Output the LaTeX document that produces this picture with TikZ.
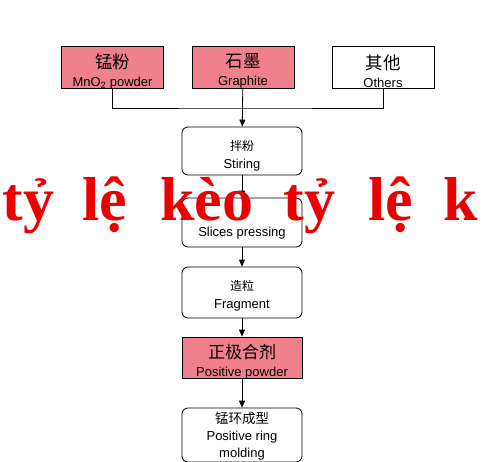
\documentclass[tikz,border=0pt]{standalone}
\usepackage{fontspec}
\setmainfont{Liberation Sans}
\newfontfamily\cjk{Noto Sans CJK SC}
\newfontfamily\markfont{Liberation Serif}
\usepackage{tikz}
\usetikzlibrary{arrows.meta, positioning}
\tikzset{
    rawnode/.style = {draw, rectangle, minimum width=102pt, minimum height=42pt, inner sep=0em},
    stepnode/.style = {draw, rectangle, rounded corners=0.6em, minimum width=120pt, minimum height=49pt, 
      inner sep=0em},
    pinknode/.style = {fill=pinkfill},
    boxtext/.style = {align=center, inner sep=0em, yshift=#1, font=\fontsize{13}{18}\selectfont},
    boxtext/.default = -4pt,
    marknode/.style = {anchor=base west, text=markred, inner sep=0em, 
      font=\markfont\bfseries\fontsize{62}{62}\selectfont},
    connect/.style = {black, -{Triangle[length=7pt,width=6pt]}}
}
\definecolor{pinkfill}{RGB}{240,128,140}
\definecolor{markred}{RGB}{235,0,0}
\newcommand{\bigcjk}[1]{{\cjk\fontsize{17.5}{18}\selectfont #1}}

\begin{document}
\begin{tikzpicture}[x=1pt, y=-1pt, line width=0.8pt]
    \useasboundingbox (0,0) rectangle (482,461);
    \clip (0,0) rectangle (482,461);

    % raw materials
    \node [rawnode, pinknode, name=mno2, label={[boxtext=-4pt]center:\bigcjk{锰粉} \\ MnO\textsubscript{2} powder}] 
      at (112.5,67) {};
    \node [rawnode, pinknode, name=graphite, label={[boxtext=-4pt]center:\bigcjk{石墨} \\ Graphite}] 
      at (243,67) {};
    \node [rawnode, name=others, label={[boxtext=-4pt]center:\bigcjk{其他} \\ Others}] 
      at (383,67) {};
    \coordinate (merge) at (243,108);

    % process steps
    \node [stepnode, name=stiring, minimum height=48pt, label={[boxtext=-5pt]center:{\cjk\fontsize{12}{18}\selectfont 拌粉} \\ Stiring}] 
      at (242,151) {};
    \node [stepnode, name=pressing, label={[boxtext=-10.5pt]center:Slices pressing}] 
      at (242,222.5) {};
    \node [stepnode, name=fragment, minimum height=51pt, label={[boxtext=-3pt]center:{\cjk\fontsize{12}{18}\selectfont 造粒} \\ Fragment}] 
      at (242,292.5) {};
    \node [stepnode, pinknode, name=powder, rounded corners=0pt, minimum height=41pt, 
      label={[boxtext=-4pt]center:{\cjk\fontsize{17}{18}\selectfont 正极合剂} \\ Positive powder}] 
      at (242,357.5) {};
    \node [stepnode, name=ring, minimum height=54pt, 
      label={[boxtext=-1pt, font=\fontsize{13}{17}\selectfont]center:{\cjk\fontsize{13.5}{17}\selectfont 锰环成型} \\ Positive ring \\ molding}] 
      at (242,435) {};

    \draw (mno2.south) |- (merge) -| (others.south);
    \draw [connect] (graphite) -- (stiring);
    \draw [connect] (stiring) -- (pressing);
    \draw [connect] (pressing) -- (fragment);
    \draw [connect] (fragment) -- (powder);
    \draw [connect] (powder) -- (ring);

    % overlay text
    \foreach \word/\x [count=\i] in {tỷ/2, lệ/82, kèo/160, tỷ/283, lệ/368, k/443}
      \node [marknode, name=mark\i] at (\x,220) {\word};
\end{tikzpicture}
\end{document}
